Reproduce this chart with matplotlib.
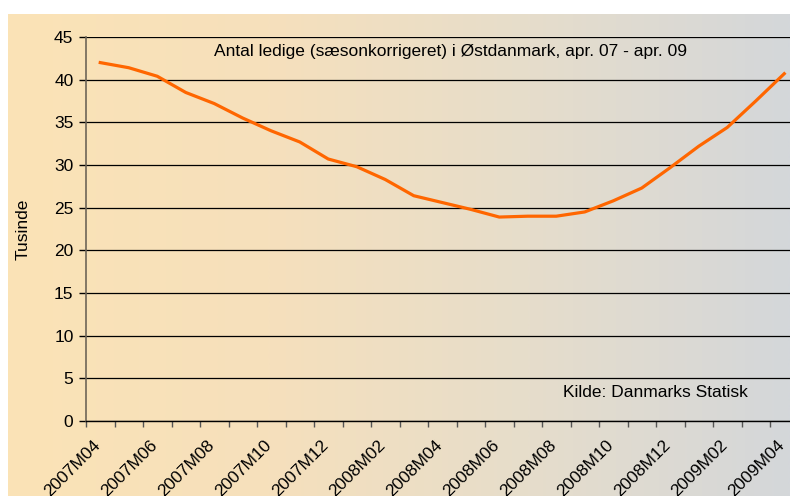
import numpy as np
import matplotlib
matplotlib.use("Agg")
import matplotlib.pyplot as plt
from matplotlib.colors import LinearSegmentedColormap
from matplotlib.ticker import FixedLocator, NullFormatter
import matplotlib.transforms as mtransforms

plt.rcParams['font.family'] = ['Liberation Sans', 'DejaVu Sans']

months = ["2007M04", "2007M05", "2007M06", "2007M07", "2007M08", "2007M09", "2007M10",
          "2007M11", "2007M12", "2008M01", "2008M02", "2008M03", "2008M04", "2008M05",
          "2008M06", "2008M07", "2008M08", "2008M09", "2008M10", "2008M11", "2008M12",
          "2009M01", "2009M02", "2009M03", "2009M04"]
ledige = [42.0, 41.4, 40.4, 38.5, 37.2, 35.5, 34.0, 32.7, 30.7, 29.8, 28.3, 26.4, 25.6,
          24.8, 23.9, 24.0, 24.0, 24.5, 25.8, 27.3, 29.7, 32.2, 34.4, 37.5, 40.7]
y_ticks = [0, 5, 10, 15, 20, 25, 30, 35, 40, 45]
title_text = "Antal ledige (sæsonkorrigeret) i Østdanmark, apr. 07 - apr. 09"
source_text = "Kilde: Danmarks Statisk"
ylabel_text = "Tusinde"

FS = 12.5
W, H = 790, 496
fig = plt.figure(figsize=(W / 100, H / 100), dpi=100)
fig.patch.set_facecolor("white")

# gradient background
bg = fig.add_axes([8 / W, 0, (W - 8) / W, (H - 14) / H], zorder=0)
cmap = LinearSegmentedColormap.from_list("bg", ["#FBE3B6", "#F6E0BC", "#E6DDCB", "#D4D7DA"])
grad = np.linspace(0, 1, 512).reshape(1, -1)
bg.imshow(grad, aspect="auto", cmap=cmap, extent=[0, 1, 0, 1])
bg.set_axis_off()

left, right, bottom, top = 86, 798.5, 421, 37
ax = fig.add_axes([left / W, (H - bottom) / H, (right - left) / W, (bottom - top) / H], zorder=1)
ax.set_facecolor("none")

x = np.arange(len(months))
ax.plot(x, ledige, color="#FF6600", lw=2.3, solid_joinstyle="round", zorder=3)

ax.set_xlim(-0.5, len(months) - 0.5)
ax.set_ylim(0, 45)
ax.set_yticks(y_ticks)
ax.set_yticklabels([str(v) for v in y_ticks])
ax.yaxis.grid(True, color="black", lw=0.9)
ax.set_axisbelow(True)

# x axis: ticks at category boundaries, labels at every other category
ax.xaxis.set_major_locator(FixedLocator(np.arange(len(months) + 1) - 0.5))
ax.xaxis.set_major_formatter(NullFormatter())
lab_idx = list(range(0, len(months), 2))
ax.xaxis.set_minor_locator(FixedLocator(lab_idx))
ax.set_xticklabels([months[i] for i in lab_idx], minor=True)
ax.tick_params(axis="x", which="major", length=4, width=1, color="#555555", direction="out")
ax.tick_params(axis="x", which="minor", length=0, pad=12, labelsize=FS)
ax.tick_params(axis="y", length=5, width=1, color="black", direction="out", pad=4, labelsize=FS)
offset = mtransforms.ScaledTranslation(-8 / 100, 0, fig.dpi_scale_trans)
for lbl in ax.xaxis.get_minorticklabels():
    lbl.set_rotation(45)
    lbl.set_ha("right")
    lbl.set_va("top")
    lbl.set_rotation_mode("anchor")
    lbl.set_transform(lbl.get_transform() + offset)

for s in ["top", "right"]:
    ax.spines[s].set_visible(False)
ax.spines["left"].set_color("#6E6658")
ax.spines["left"].set_linewidth(1.2)
ax.spines["bottom"].set_color("black")
ax.spines["bottom"].set_linewidth(1.0)

ax.text(0.512, 0.961, title_text, transform=ax.transAxes, ha="center", va="center", fontsize=FS)
ax.text(0.799, 0.073, source_text, transform=ax.transAxes, ha="center", va="center", fontsize=FS)
fig.text(23 / W, 1 - 229 / H, ylabel_text, rotation=90, ha="center", va="center", fontsize=FS)

fig.savefig("out.png", dpi=100)
